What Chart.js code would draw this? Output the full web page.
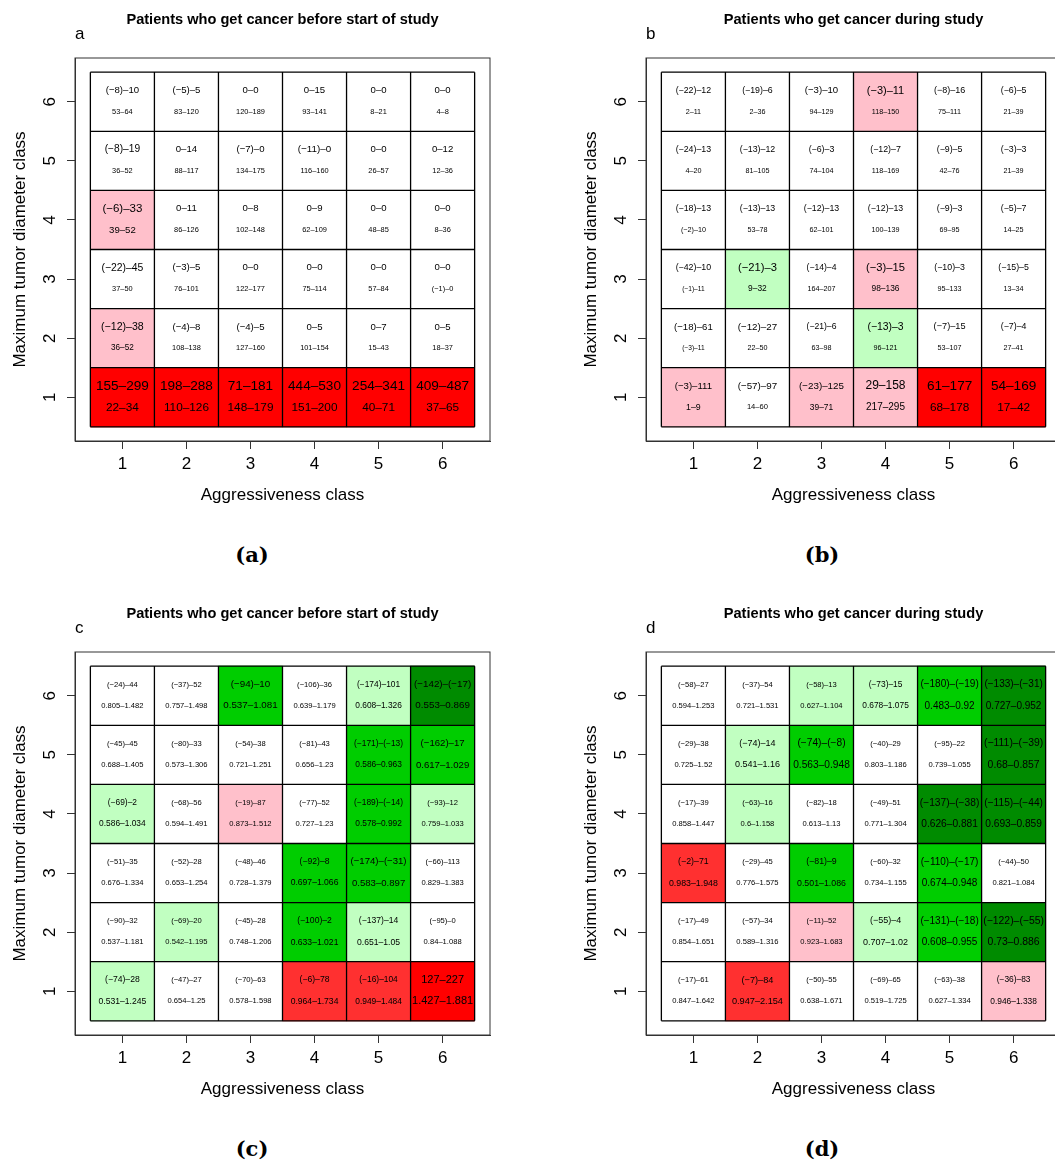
<!DOCTYPE html>
<html>
<head>
<meta charset="utf-8">
<script src="https://cdn.jsdelivr.net/npm/chart.js@4.4.1/dist/chart.umd.min.js"></script>
<style>
  html, body { margin: 0; padding: 0; background: #fff; overflow: hidden; }
  #page { position: relative; width: 1055px; height: 1163px; overflow: hidden; background: #fff; }
  #page canvas { position: absolute; }
  .cap { position: absolute; transform: translate(-50%, -50%); font-family: 'DejaVu Serif', 'Liberation Serif', serif; font-weight: bold; font-size: 21px; color: #000; white-space: nowrap; }
</style>
</head>
<body>
<div id="page">
  <canvas id="panelA" width="530" height="520" style="left:0px;top:0px"></canvas>
  <canvas id="panelB" width="530" height="520" style="left:540px;top:0px"></canvas>
  <canvas id="panelC" width="530" height="520" style="left:0px;top:594px"></canvas>
  <canvas id="panelD" width="530" height="520" style="left:540px;top:594px"></canvas>
  <div class="cap" style="left:252px;top:554px">(a)</div>
  <div class="cap" style="left:822px;top:554px">(b)</div>
  <div class="cap" style="left:252px;top:1148px">(c)</div>
  <div class="cap" style="left:822px;top:1148px">(d)</div>
</div>
<script>
// ---- classes on both axes ----
const aggressivenessClasses = [1, 2, 3, 4, 5, 6];
// grid rows are listed from diameter class 6 (top) down to class 1
const diameterRows = [6, 5, 4, 3, 2, 1];

const titleBefore = 'Patients who get cancer before start of study';
const titleDuring = 'Patients who get cancer during study';

// ---- panel a: upper line / lower line intervals ----
const aUpper = [
  [[-8, 10], [-5, 5], [0, 0], [0, 15], [0, 0], [0, 0]],
  [[-8, 19], [0, 14], [-7, 0], [-11, 0], [0, 0], [0, 12]],
  [[-6, 33], [0, 11], [0, 8], [0, 9], [0, 0], [0, 0]],
  [[-22, 45], [-3, 5], [0, 0], [0, 0], [0, 0], [0, 0]],
  [[-12, 38], [-4, 8], [-4, 5], [0, 5], [0, 7], [0, 5]],
  [[155, 299], [198, 288], [71, 181], [444, 530], [254, 341], [409, 487]]
];
const aLower = [
  [[53, 64], [83, 120], [120, 189], [93, 141], [8, 21], [4, 8]],
  [[36, 52], [88, 117], [134, 175], [116, 160], [26, 57], [12, 36]],
  [[39, 52], [86, 126], [102, 148], [62, 109], [48, 85], [8, 36]],
  [[37, 50], [76, 101], [122, 177], [75, 114], [57, 84], [-1, 0]],
  [[36, 52], [108, 138], [127, 160], [101, 154], [15, 43], [18, 37]],
  [[22, 34], [110, 126], [148, 179], [151, 200], [40, 71], [37, 65]]
];
const aFill = ['wwwwww', 'wwwwww', 'pwwwww', 'wwwwww', 'pwwwww', 'rrrrrr'];

// ---- panel b ----
const bUpper = [
  [[-22, 12], [-19, 6], [-3, 10], [-3, 11], [-8, 16], [-6, 5]],
  [[-24, 13], [-13, 12], [-6, 3], [-12, 7], [-9, 5], [-3, 3]],
  [[-18, 13], [-13, 13], [-12, 13], [-12, 13], [-9, 3], [-5, 7]],
  [[-42, 10], [-21, 3], [-14, 4], [-3, 15], [-10, 3], [-15, 5]],
  [[-18, 61], [-12, 27], [-21, 6], [-13, 3], [-7, 15], [-7, 4]],
  [[-3, 111], [-57, 97], [-23, 125], [29, 158], [61, 177], [54, 169]]
];
const bLower = [
  [[2, 11], [2, 36], [94, 129], [118, 150], [75, 111], [21, 39]],
  [[4, 20], [81, 105], [74, 104], [118, 169], [42, 76], [21, 39]],
  [[-2, 10], [53, 78], [62, 101], [100, 139], [69, 95], [14, 25]],
  [[-1, 11], [9, 32], [164, 207], [98, 136], [95, 133], [13, 34]],
  [[-3, 11], [22, 50], [63, 98], [96, 121], [53, 107], [27, 41]],
  [[1, 9], [14, 60], [39, 71], [217, 295], [68, 178], [17, 42]]
];
const bFill = ['wwwpww', 'wwwwww', 'wwwwww', 'wlwpww', 'wwwlww', 'pwpprr'];

// ---- panel c ----
const cUpper = [
  [[-24, 44], [-37, 52], [-94, 10], [-106, 36], [-174, 101], [-142, -17]],
  [[-45, 45], [-80, 33], [-54, 38], [-81, 43], [-171, -13], [-162, 17]],
  [[-69, 2], [-68, 56], [-19, 87], [-77, 52], [-189, -14], [-93, 12]],
  [[-51, 35], [-52, 28], [-48, 46], [-92, 8], [-174, -31], [-66, 113]],
  [[-90, 32], [-69, 20], [-45, 28], [-100, 2], [-137, 14], [-95, 0]],
  [[-74, 28], [-47, 27], [-70, 63], [-6, 78], [-16, 104], [127, 227]]
];
const cLower = [
  [[0.805, 1.482], [0.757, 1.498], [0.537, 1.081], [0.639, 1.179], [0.608, 1.326], [0.553, 0.869]],
  [[0.688, 1.405], [0.573, 1.306], [0.721, 1.251], [0.656, 1.23], [0.586, 0.963], [0.617, 1.029]],
  [[0.586, 1.034], [0.594, 1.491], [0.873, 1.512], [0.727, 1.23], [0.578, 0.992], [0.759, 1.033]],
  [[0.676, 1.334], [0.653, 1.254], [0.728, 1.379], [0.697, 1.066], [0.583, 0.897], [0.829, 1.383]],
  [[0.537, 1.181], [0.542, 1.195], [0.748, 1.206], [0.633, 1.021], [0.651, 1.05], [0.84, 1.088]],
  [[0.531, 1.245], [0.654, 1.25], [0.578, 1.598], [0.964, 1.734], [0.949, 1.484], [1.427, 1.881]]
];
const cFill = ['wwgwld', 'wwwwgg', 'lwpwgl', 'wwwggw', 'wlwglw', 'lwwffr'];

// ---- panel d ----
const dUpper = [
  [[-58, 27], [-37, 54], [-58, 13], [-73, 15], [-180, -19], [-133, -31]],
  [[-29, 38], [-74, 14], [-74, -8], [-40, 29], [-95, 22], [-111, -39]],
  [[-17, 39], [-63, 16], [-82, 18], [-49, 51], [-137, -38], [-115, -44]],
  [[-2, 71], [-29, 45], [-81, 9], [-60, 32], [-110, -17], [-44, 50]],
  [[-17, 49], [-57, 34], [-11, 52], [-55, 4], [-131, -18], [-122, -55]],
  [[-17, 61], [-7, 84], [-50, 55], [-69, 65], [-63, 38], [-36, 83]]
];
const dLower = [
  [[0.594, 1.253], [0.721, 1.531], [0.627, 1.104], [0.678, 1.075], [0.483, 0.92], [0.727, 0.952]],
  [[0.725, 1.52], [0.541, 1.16], [0.563, 0.948], [0.803, 1.186], [0.739, 1.055], [0.68, 0.857]],
  [[0.858, 1.447], [0.6, 1.158], [0.613, 1.13], [0.771, 1.304], [0.626, 0.881], [0.693, 0.859]],
  [[0.983, 1.948], [0.776, 1.575], [0.501, 1.086], [0.734, 1.155], [0.674, 0.948], [0.821, 1.084]],
  [[0.854, 1.651], [0.589, 1.316], [0.923, 1.683], [0.707, 1.02], [0.608, 0.955], [0.73, 0.886]],
  [[0.847, 1.642], [0.947, 2.154], [0.638, 1.671], [0.519, 1.725], [0.627, 1.334], [0.946, 1.338]]
];
const dFill = ['wwllgd', 'wlgwwd', 'wlwwdd', 'fwgwgw', 'wwplgd', 'wfwwwp'];

// ---- styling: fill colours and per-cell text sizes (px) ----
const fillColours = { w: '#FFFFFF', p: '#FFC0CB', r: '#FF0000', f: '#FF3030', l: '#C1FFC1', g: '#00CD00', d: '#008B00' };

const aUpperSize = [
  [9.6, 9.6, 9.6, 9.6, 9.6, 9.6],
  [10.2, 9.6, 9.6, 9.8, 9.6, 9.6],
  [11.5, 9.6, 9.6, 9.6, 9.6, 9.6],
  [10.4, 9.6, 9.6, 9.6, 9.6, 9.6],
  [10.6, 9.6, 9.6, 9.6, 9.6, 9.6],
  [13.6, 13.6, 13.6, 13.6, 13.6, 13.6]
];
const aLowerSize = [
  [7.4, 7.4, 7.4, 7.4, 7.4, 7.4],
  [7.4, 7.4, 7.4, 7.4, 7.4, 7.4],
  [9.6, 7.4, 7.4, 7.4, 7.4, 7.4],
  [7.4, 7.4, 7.4, 7.4, 7.4, 7.4],
  [8.2, 7.4, 7.4, 7.4, 7.4, 7.4],
  [11.8, 11.8, 11.8, 11.8, 11.8, 11.8]
];
const bUpperSize = [
  [8.8, 8.8, 9.6, 11, 9, 8.8],
  [8.8, 8.8, 8.8, 8.8, 8.8, 8.8],
  [8.8, 8.8, 8.8, 8.8, 8.8, 8.8],
  [8.8, 11.2, 8.6, 11.2, 8.8, 8.8],
  [9.6, 9.8, 8.6, 10.4, 9.2, 8.8],
  [9.6, 9.8, 9.8, 12, 13.6, 13.6]
];
const bLowerSize = [
  [7.2, 7.2, 7.2, 7.2, 7.2, 7.2],
  [7.2, 7.2, 7.2, 7.2, 7.2, 7.2],
  [7.2, 7.2, 7.2, 7.2, 7.2, 7.2],
  [6.6, 8.4, 7.2, 8.4, 7.2, 7.2],
  [6.6, 7.2, 7.2, 7.2, 7.2, 7.2],
  [8.8, 7.6, 8.4, 10, 11.8, 11.8]
];
const cTextSize = [
  [7.6, 7.6, 9.8, 7.6, 8.4, 9.8],
  [7.6, 7.6, 7.6, 7.6, 8.4, 9.6],
  [8.4, 7.6, 7.6, 7.6, 8.4, 7.6],
  [7.6, 7.6, 7.6, 8.6, 9.6, 7.6],
  [7.6, 7.6, 7.6, 8.6, 8.6, 7.6],
  [8.6, 7.6, 7.6, 8.6, 8.4, 11]
];
const dTextSize = [
  [7.6, 7.6, 7.6, 8.4, 10, 10],
  [7.6, 9, 10.2, 7.6, 7.6, 10.4],
  [7.6, 7.6, 7.6, 7.6, 10.2, 10.2],
  [8.8, 7.6, 8.8, 7.6, 10, 7.6],
  [7.6, 7.6, 7.6, 9, 10, 10.4],
  [7.6, 9.2, 7.6, 7.6, 7.6, 8.4]
];

const FONT = "'Liberation Sans', Arial, Helvetica, sans-serif";
Chart.defaults.font.family = FONT;
Chart.defaults.color = '#000';

// axis range: cells span 0.5..6.5, widened by 4% on each side
const AXIS_MIN = 0.26;
const AXIS_MAX = 6.74;

function fmt(v) {
  return v < 0 ? '(\u2212' + Math.abs(v) + ')' : String(v);
}
function rangeLabel(pair) {
  return fmt(pair[0]) + '\u2013' + fmt(pair[1]);
}

const panels = [
  { id: 'panelA', letter: 'a', title: titleBefore, upper: aUpper, lower: aLower, fill: aFill, upperSize: aUpperSize, lowerSize: aLowerSize, padLeft: 0, padRight: 40 },
  { id: 'panelB', letter: 'b', title: titleDuring, upper: bUpper, lower: bLower, fill: bFill, upperSize: bUpperSize, lowerSize: bLowerSize, padLeft: 31, padRight: 9 },
  { id: 'panelC', letter: 'c', title: titleBefore, upper: cUpper, lower: cLower, fill: cFill, upperSize: cTextSize, lowerSize: cTextSize, padLeft: 0, padRight: 40 },
  { id: 'panelD', letter: 'd', title: titleDuring, upper: dUpper, lower: dLower, fill: dFill, upperSize: dTextSize, lowerSize: dTextSize, padLeft: 31, padRight: 9 }
];

// draws cell borders, the two text lines of each cell, plot box, heading and panel letter
function gridTextPlugin(p) {
  return {
    id: 'gridText',
    afterDatasetsDraw(chart) {
      const { ctx, chartArea: ca, scales: { x, y } } = chart;
      ctx.save();
      ctx.strokeStyle = '#000';
      ctx.lineWidth = 1.3;
      const xl = x.getPixelForValue(0.5), xr = x.getPixelForValue(6.5);
      const yb = y.getPixelForValue(0.5), yt = y.getPixelForValue(6.5);
      ctx.beginPath();
      for (let k = 0; k <= 6; k++) {
        const px = x.getPixelForValue(0.5 + k);
        ctx.moveTo(px, yt); ctx.lineTo(px, yb);
        const py = y.getPixelForValue(0.5 + k);
        ctx.moveTo(xl, py); ctx.lineTo(xr, py);
      }
      ctx.stroke();

      ctx.fillStyle = '#000';
      ctx.textAlign = 'center';
      ctx.textBaseline = 'middle';
      diameterRows.forEach((row, r) => {
        aggressivenessClasses.forEach((col, c) => {
          const cx = x.getPixelForValue(col);
          ctx.font = p.upperSize[r][c] + 'px ' + FONT;
          ctx.fillText(rangeLabel(p.upper[r][c]), cx, y.getPixelForValue(row + 0.19));
          ctx.font = p.lowerSize[r][c] + 'px ' + FONT;
          ctx.fillText(rangeLabel(p.lower[r][c]), cx, y.getPixelForValue(row - 0.17));
        });
      });

      ctx.strokeStyle = '#333';
      ctx.lineWidth = 1;
      ctx.strokeRect(ca.left, ca.top, ca.right - ca.left, ca.bottom - ca.top);

      ctx.font = 'bold 14.6px ' + FONT;
      ctx.textAlign = 'center';
      ctx.fillText(p.title, (ca.left + ca.right) / 2, 20);
      ctx.font = '17px ' + FONT;
      ctx.textAlign = 'left';
      ctx.fillText(p.letter, ca.left, 34);
      ctx.restore();
    }
  };
}

panels.forEach(p => {
  const points = [];
  const colours = [];
  diameterRows.forEach((row, r) => {
    aggressivenessClasses.forEach((col, c) => {
      points.push({ x: col, y: [row - 0.5, row + 0.5] });
      colours.push(fillColours[p.fill[r][c]]);
    });
  });

  new Chart(document.getElementById(p.id), {
    type: 'bar',
    data: {
      datasets: [{
        data: points,
        backgroundColor: colours,
        borderWidth: 0,
        categoryPercentage: 1,
        barPercentage: 1
      }]
    },
    options: {
      responsive: false,
      animation: false,
      devicePixelRatio: 1,
      layout: { padding: { left: p.padLeft, right: p.padRight, top: 58, bottom: 14 } },
      plugins: { legend: { display: false }, tooltip: { enabled: false } },
      scales: {
        x: {
          type: 'linear',
          min: AXIS_MIN,
          max: AXIS_MAX,
          offset: false,
          afterBuildTicks: s => { s.ticks = aggressivenessClasses.map(v => ({ value: v })); },
          afterFit: s => { s.height = 65; },
          ticks: { autoSkip: false, maxRotation: 0, padding: 5, font: { size: 17 }, color: '#000' },
          grid: { offset: false, drawOnChartArea: false, drawTicks: true, tickLength: 8, color: '#333' },
          border: { display: true, color: '#333' },
          title: { display: true, text: 'Aggressiveness class', font: { size: 17 }, color: '#000', padding: 0 }
        },
        y: {
          type: 'linear',
          min: AXIS_MIN,
          max: AXIS_MAX,
          afterBuildTicks: s => { s.ticks = diameterRows.slice().reverse().map(v => ({ value: v })); },
          afterFit: s => { s.width = 75; },
          ticks: { autoSkip: false, minRotation: 90, maxRotation: 90, crossAlign: 'center', padding: 12, font: { size: 17 }, color: '#000' },
          grid: { offset: false, drawOnChartArea: false, drawTicks: true, tickLength: 8, color: '#333' },
          border: { display: true, color: '#333' },
          title: { display: true, text: 'Maximum tumor diameter class', font: { size: 17 }, color: '#000', padding: { top: 10, bottom: 0 } }
        }
      }
    },
    plugins: [gridTextPlugin(p)]
  });
});
</script>
</body>
</html>
